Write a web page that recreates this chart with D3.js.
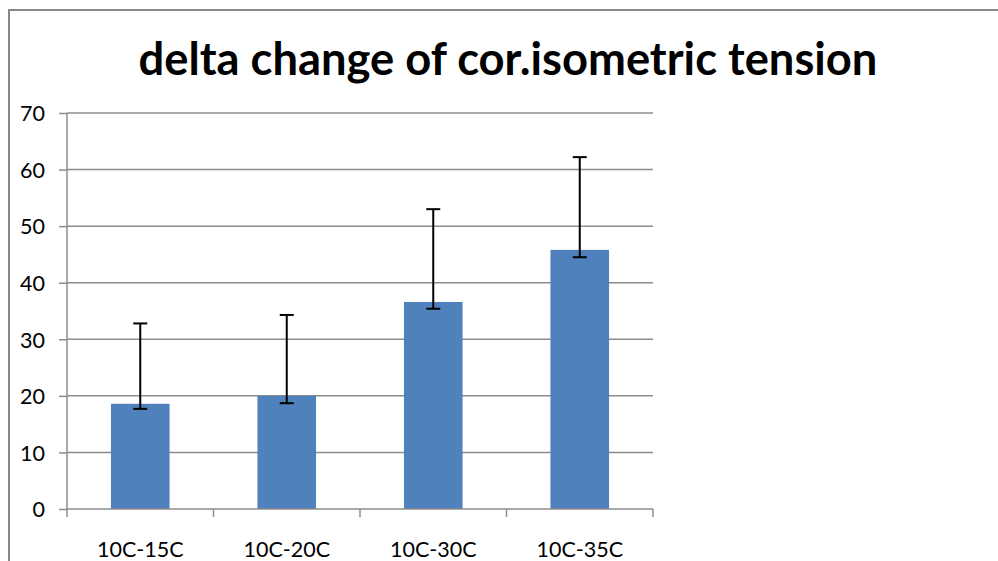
<!DOCTYPE html>
<html>
<head>
<meta charset="utf-8">
<script src="https://cdn.jsdelivr.net/npm/d3@7"></script>
<style>
  html, body { margin: 0; padding: 0; background: #fff; }
  svg { display: block; }
</style>
</head>
<body>
<svg id="chart" width="998" height="561"></svg>
<script>
// Temperature step comparisons and mean change in isometric tension
const categories = ["10C-15C", "10C-20C", "10C-30C", "10C-35C"];
const values = [18.6, 20.0, 36.6, 45.8];
// Error bar extents (upper and lower), per category
const errUpper = [14.2, 14.3, 16.4, 16.4];
const errLower = [0.9, 1.3, 1.2, 1.3];
const yTicks = [0, 10, 20, 30, 40, 50, 60, 70];
const title = "delta change of cor.isometric tension";

const svg = d3.select("#chart");
const font = "Lato, 'Open Sans', 'DejaVu Sans', sans-serif";

const plot = { left: 67, right: 653, top: 113, bottom: 509 };

const x = d3.scaleBand()
  .domain(categories)
  .range([plot.left, plot.right])
  .paddingInner(0.6)
  .paddingOuter(0.3);

const y = d3.scaleLinear()
  .domain([0, 70])
  .range([plot.bottom, plot.top]);

// Outer chart frame
svg.append("rect")
  .attr("x", 9).attr("y", 10)
  .attr("width", 1000).attr("height", 600)
  .attr("fill", "none")
  .attr("stroke", "#888")
  .attr("stroke-width", 2);

// Title, fitted to its width
const t = svg.append("text")
  .attr("x", 508).attr("y", 75)
  .attr("text-anchor", "middle")
  .attr("font-family", font)
  .attr("font-weight", "bold")
  .attr("font-size", 42)
  .attr("fill", "#000")
  .text(title);
const tw = t.node().getComputedTextLength();
t.attr("font-size", 42 * 739 / tw);

// Horizontal gridlines
svg.append("g")
  .selectAll("line")
  .data(yTicks.filter(d => d > 0))
  .join("line")
  .attr("x1", plot.left).attr("x2", plot.right)
  .attr("y1", d => y(d)).attr("y2", d => y(d))
  .attr("stroke", "#8c8c8c")
  .attr("stroke-width", 1.5);

// Bars
svg.append("g")
  .selectAll("rect")
  .data(categories)
  .join("rect")
  .attr("x", d => x(d))
  .attr("width", x.bandwidth())
  .attr("y", (d, i) => y(values[i]))
  .attr("height", (d, i) => y(0) - y(values[i]))
  .attr("fill", "#4F81BD");

// Y axis
const yAxis = d3.axisLeft(y)
  .tickValues(yTicks)
  .tickSize(8)
  .tickPadding(14)
  .tickFormat(d3.format("d"));
const gy = svg.append("g")
  .attr("transform", `translate(${plot.left},0)`)
  .call(yAxis);
gy.select(".domain").attr("stroke", "#8c8c8c").attr("stroke-width", 1.5)
  .attr("d", `M0,${plot.top}V${plot.bottom}`);
gy.selectAll(".tick line").attr("stroke", "#8c8c8c").attr("stroke-width", 1.5);
gy.selectAll(".tick text")
  .attr("font-family", font)
  .attr("font-size", 21.5)
  .attr("fill", "#000")
  .attr("dy", "0.36em");

// X axis: line with ticks at category boundaries
const boundaries = d3.range(categories.length + 1).map(i => plot.left + i * (plot.right - plot.left) / categories.length);
svg.append("line")
  .attr("x1", plot.left).attr("x2", plot.right)
  .attr("y1", plot.bottom).attr("y2", plot.bottom)
  .attr("stroke", "#8c8c8c").attr("stroke-width", 1.5);
svg.append("g")
  .selectAll("line")
  .data(boundaries)
  .join("line")
  .attr("x1", d => d).attr("x2", d => d)
  .attr("y1", plot.bottom).attr("y2", plot.bottom + 8)
  .attr("stroke", "#8c8c8c").attr("stroke-width", 1.5);
svg.append("g")
  .selectAll("text")
  .data(categories)
  .join("text")
  .attr("x", d => x(d) + x.bandwidth() / 2)
  .attr("y", 557)
  .attr("text-anchor", "middle")
  .attr("font-family", font)
  .attr("font-size", 21.5)
  .attr("fill", "#000")
  .text(d => d);

// Error bars
const eb = svg.append("g")
  .attr("stroke", "#000")
  .attr("stroke-width", 2);
categories.forEach((c, i) => {
  const cx = x(c) + x.bandwidth() / 2;
  const yHi = y(values[i] + errUpper[i]);
  const yLo = y(values[i] - errLower[i]);
  eb.append("line").attr("x1", cx).attr("x2", cx).attr("y1", yHi).attr("y2", yLo);
  eb.append("line").attr("x1", cx - 7).attr("x2", cx + 7).attr("y1", yHi).attr("y2", yHi);
  eb.append("line").attr("x1", cx - 7).attr("x2", cx + 7).attr("y1", yLo).attr("y2", yLo);
});
</script>
</body>
</html>
